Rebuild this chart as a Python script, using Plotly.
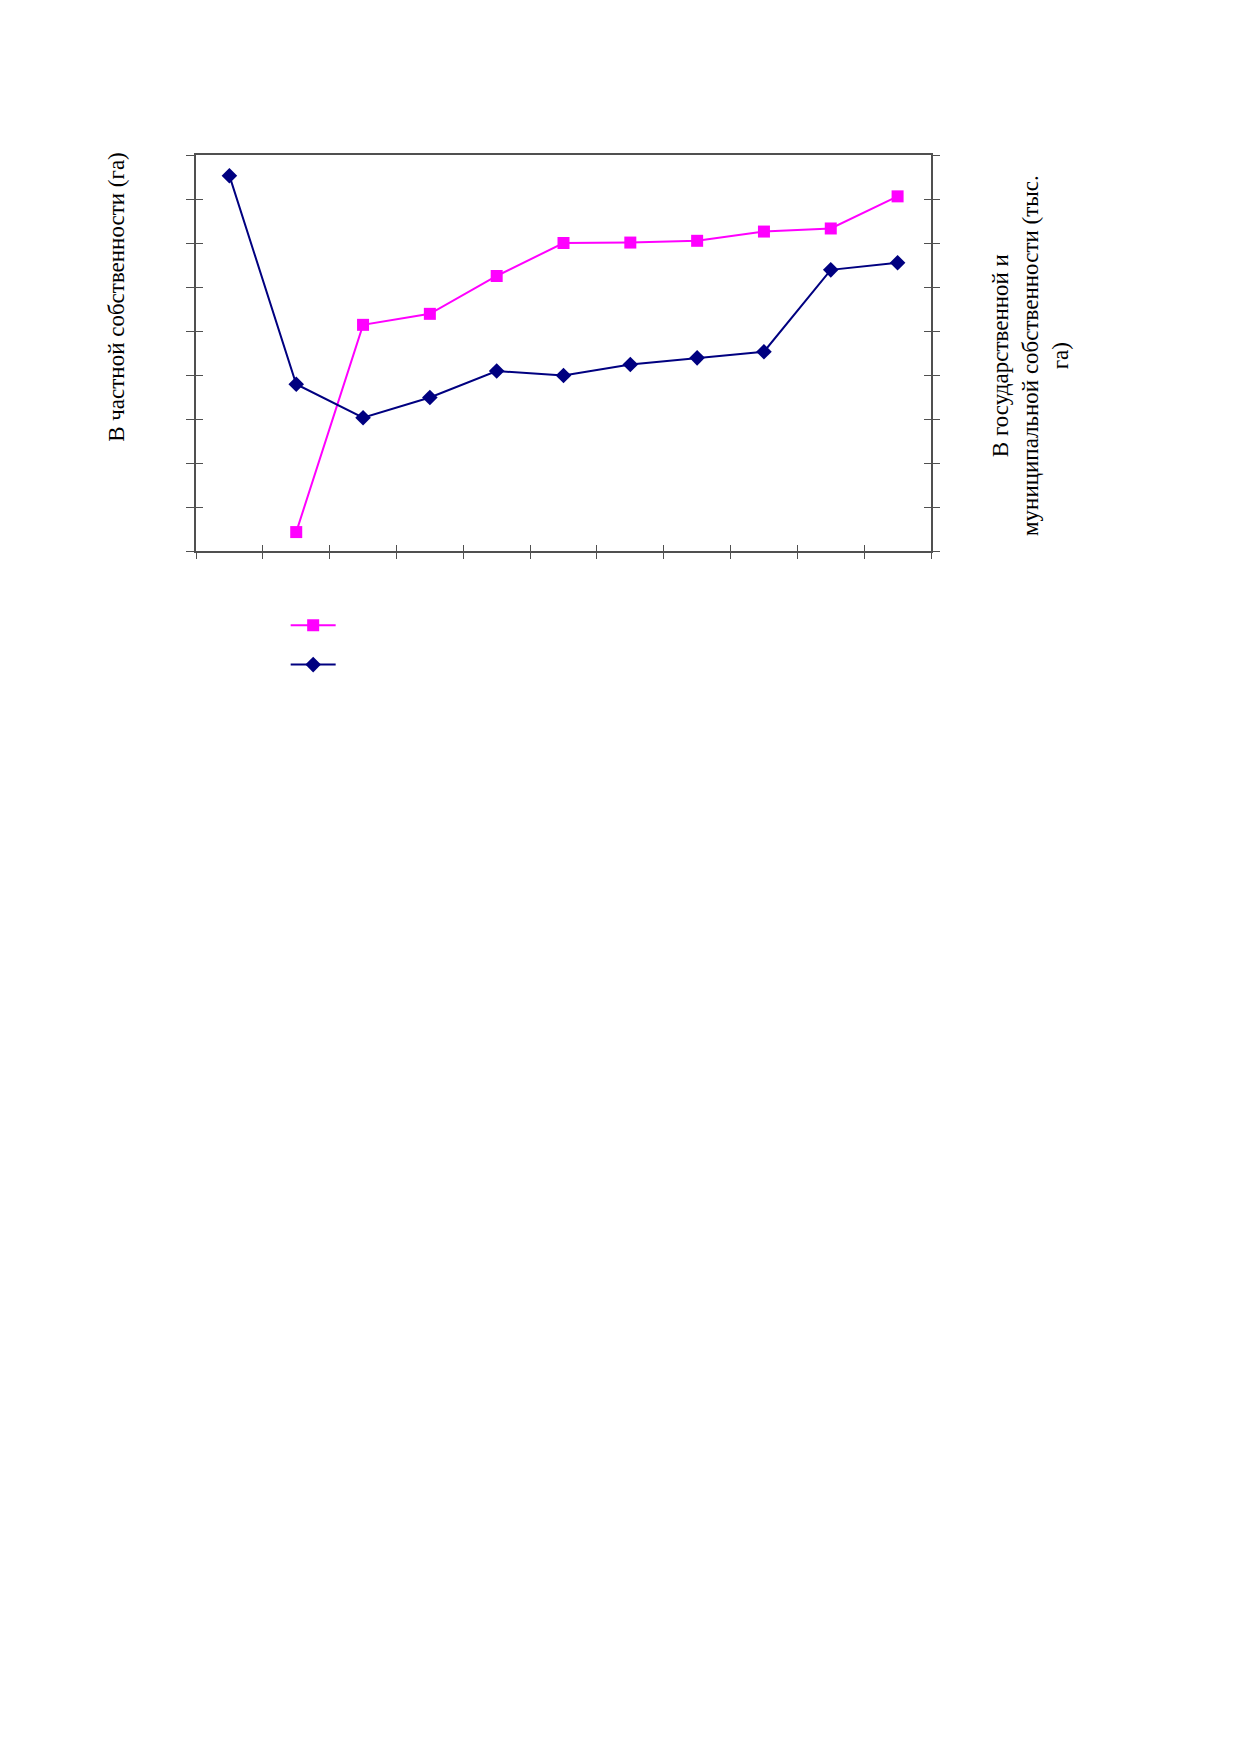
import plotly.graph_objects as go

# 11 periods on the x axis, no labels shown in the original
periods = list(range(1, 12))

# private ownership, ha (left axis)
private_ha = [None, 430, 5140, 5390, 6250, 7000, 7010, 7050, 7260, 7330, 8060]
# state + municipal ownership, thousand ha (right axis)
state_kha = [85.3, 37.9, 30.3, 34.9, 40.9, 39.9, 42.4, 43.9, 45.3, 63.9, 65.5]

left_range = [0, 9000]
right_range = [0, 90]

PINK = '#FF00FF'
NAVY = '#000080'
AXIS = '#505050'
FONT = 'Liberation Serif'

fig = go.Figure()

fig.add_trace(go.Scatter(
    x=periods, y=private_ha, name=' ', yaxis='y',
    mode='lines+markers',
    line=dict(color=PINK, width=2),
    marker=dict(symbol='square', size=12, color=PINK),
))
fig.add_trace(go.Scatter(
    x=periods, y=state_kha, name=' ', yaxis='y2',
    mode='lines+markers',
    line=dict(color=NAVY, width=2),
    marker=dict(symbol='diamond', size=12, color=NAVY),
))

# empty traces so the overlay axes (inner halves of the crossing ticks) get drawn
for xa, ya in [('x2', 'y3'), ('x2', 'y4')]:
    fig.add_trace(go.Scatter(x=[], y=[], xaxis=xa, yaxis=ya,
                             showlegend=False, hoverinfo='skip'))

tick_x = dict(tickmode='linear', tick0=0.5, dtick=1, range=[0.5, 11.5],
              showticklabels=False, showgrid=False, zeroline=False,
              tickcolor=AXIS, tickwidth=1)

fig.update_layout(
    width=1239, height=1754,
    margin=dict(l=188, r=316, t=147, b=1211),
    paper_bgcolor='white', plot_bgcolor='white',
    font=dict(family=FONT, size=23, color='black'),
    showlegend=True,
    legend=dict(x=0.122, y=-0.125, xanchor='left', yanchor='top',
                bgcolor='rgba(0,0,0,0)', font=dict(size=28),
                tracegroupgap=0, itemwidth=45),
    xaxis=dict(**tick_x, ticks='outside', ticklen=6,
               showline=True, linecolor=AXIS, linewidth=2, mirror=True),
    xaxis2=dict(**tick_x, ticks='inside', ticklen=6, overlaying='x',
                anchor='y', showline=False),
    yaxis=dict(range=left_range, dtick=1000, ticks='outside', ticklen=8,
               tickcolor=AXIS, showticklabels=False, showgrid=False,
               zeroline=False, showline=True, linecolor=AXIS, linewidth=2),
    yaxis2=dict(range=right_range, dtick=10, overlaying='y', side='right',
                ticks='outside', ticklen=7, tickcolor=AXIS,
                showticklabels=False, showgrid=False, zeroline=False,
                showline=True, linecolor=AXIS, linewidth=2),
    yaxis3=dict(range=left_range, dtick=1000, overlaying='y', side='left',
                anchor='x2', ticks='inside', ticklen=7, tickcolor=AXIS,
                showticklabels=False, showgrid=False, zeroline=False),
    yaxis4=dict(range=right_range, dtick=10, overlaying='y', side='right',
                anchor='x2', ticks='inside', ticklen=7, tickcolor=AXIS,
                showticklabels=False, showgrid=False, zeroline=False),
)

fig.add_annotation(
    text='В частной собственности (га)', textangle=-90,
    xref='paper', yref='paper', x=-0.108, y=0.641,
    xanchor='center', yanchor='middle',
    showarrow=False, font=dict(size=23),
)
fig.add_annotation(
    text='В государственной и<br>муниципальной собственности (тыс.<br>га)',
    textangle=-90, xref='paper', yref='paper', x=1.136, y=0.495,
    xanchor='center', yanchor='middle',
    showarrow=False, font=dict(size=23),
)

fig.write_html('out.html')
